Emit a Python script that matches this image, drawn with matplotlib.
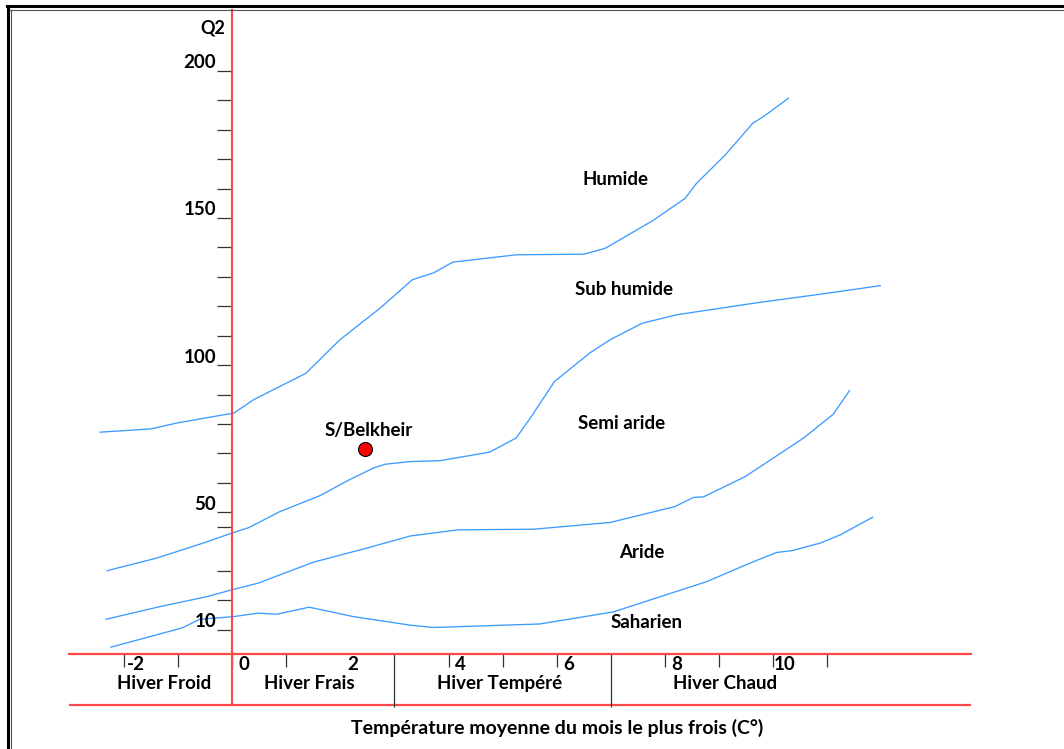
import matplotlib
matplotlib.use("Agg")
import matplotlib.pyplot as plt
from matplotlib.lines import Line2D

plt.rcParams["font.family"] = ["Lato", "DejaVu Sans"]
plt.rcParams["font.weight"] = "bold"

# Emberger climagram: limits between bioclimatic stages (T = m in C, Q2)
humide_t = [-2.45, -1.51, -1.03, -0.10, 0.02, 0.39, 1.36, 1.99, 2.73, 3.33, 3.73, 4.08,
            5.26, 6.51, 6.90, 7.78, 8.38, 8.59, 9.12, 9.63, 9.83, 10.29]
humide_q = [77.2, 78.3, 80.3, 83.3, 83.6, 88.2, 97.2, 108.6, 119.3, 129.0, 131.4, 135.0,
            137.5, 137.7, 139.7, 149.1, 156.7, 161.8, 171.4, 182.2, 184.5, 190.7]

subhum_t = [-2.32, -1.40, -0.54, -0.01, 0.31, 0.88, 1.62, 2.12, 2.61, 2.83, 3.29, 3.84,
            4.76, 5.25, 5.51, 5.96, 6.62, 6.99, 7.58, 8.22, 9.64, 11.00, 11.99]
subhum_q = [30.1, 34.4, 39.5, 42.9, 44.8, 50.2, 55.6, 60.6, 65.0, 66.3, 67.2, 67.5,
            70.4, 75.2, 81.9, 94.4, 104.2, 108.6, 114.2, 117.1, 121.0, 124.4, 127.0]

semiar_t = [-2.34, -1.34, -0.47, -0.01, 0.48, 0.88, 1.50, 2.49, 3.29, 4.18, 5.57, 6.99,
            8.19, 8.53, 8.72, 9.49, 10.01, 10.57, 11.12, 11.42]
semiar_q = [13.6, 17.9, 21.3, 23.6, 25.9, 28.7, 33.0, 37.8, 41.9, 44.0, 44.2, 46.5,
            51.9, 55.0, 55.2, 62.1, 68.4, 75.2, 83.3, 91.3]

aride_t = [-2.25, -0.94, -0.60, 0.02, 0.48, 0.82, 1.42, 2.24, 3.29, 3.72, 5.69, 7.05,
           8.78, 9.58, 10.07, 10.35, 10.88, 11.25, 11.85]
aride_q = [4.1, 10.6, 13.6, 14.5, 15.7, 15.3, 17.7, 14.5, 11.6, 10.8, 12.0, 16.1,
           26.4, 32.7, 36.3, 36.9, 39.5, 42.3, 48.3]

station_name = "S/Belkheir"
station_t = 2.46
station_q = 71.5

stage_names = ["Humide", "Sub humide", "Semi aride", "Aride", "Saharien"]
stage_t = [7.09, 7.25, 7.21, 7.58, 7.67]
stage_q = [163.0, 125.8, 80.3, 36.3, 12.5]

winter_names = ["Hiver Froid", "Hiver Frais", "Hiver Tempéré", "Hiver Chaud"]
winter_t = [-1.27, 1.42, 4.95, 9.12]
winter_limits = [3, 7]

q_labels = [200, 150, 100, 50, 10]
q_minor = [190, 180, 170, 160, 140, 130, 120, 110, 90, 80, 70, 60, 45, 30, 20]
t_ticks = [-2, -1, 0, 1, 4, 5, 6, 8, 9, 10, 11]
t_labels = [-2, 0, 2, 4, 6, 8, 10]

RED = "#ff4747"
BLUE = "#3d9bff"
FS = 13.5

fig = plt.figure(figsize=(10.64, 7.49), dpi=100)
ax = fig.add_axes([0, 0, 1, 1])
ax.set_xlim(-4.30, 15.39)
ax.set_ylim(-30.5, 224.1)

# axes lines
base_q = 1.8
low_q = -15.5
ax.spines["top"].set_visible(False)
ax.spines["right"].set_visible(False)
ax.spines["left"].set_position(("data", 0))
ax.spines["left"].set_bounds(low_q, 220.7)
ax.spines["left"].set_color(RED)
ax.spines["left"].set_linewidth(1.5)
ax.spines["bottom"].set_position(("data", base_q))
ax.spines["bottom"].set_bounds(-3.02, 13.67)
ax.spines["bottom"].set_color(RED)
ax.spines["bottom"].set_linewidth(1.6)
ax.hlines(low_q, -3.02, 13.67, color=RED, lw=1.6)

ax.set_yticks(q_labels + q_minor)
ax.set_xticks(t_ticks)
ax.tick_params(axis="y", direction="out", length=10.5, width=0.9, color="#333333",
               labelleft=False)
ax.tick_params(axis="x", direction="out", length=9.5, width=0.9, color="#333333",
               labelbottom=False)
ax.vlines(winter_limits, low_q - 0.8, base_q, color="#333333", lw=0.9)

for q in q_labels:
    ax.annotate(str(q), (0, q), xytext=(-16, 8), textcoords="offset pixels",
                ha="right", va="center", fontsize=FS, fontweight="bold")
ax.annotate("Q2", (0, 214.6), xytext=(-20, 0), textcoords="offset pixels",
            ha="center", va="center", fontsize=FS - 0.5, fontweight="bold")

for t in t_labels:
    ax.annotate(str(t), (t, base_q), xytext=(12, -11), textcoords="offset pixels",
                ha="center", va="center", fontsize=FS, fontweight="bold")

for name, t in zip(winter_names, winter_t):
    ax.annotate(name, (t, (base_q + low_q) / 2), xytext=(0, -4), textcoords="offset pixels",
                ha="center", va="center", fontsize=FS, fontweight="bold")

# stage limits
for xs, ys in [(humide_t, humide_q), (subhum_t, subhum_q),
               (semiar_t, semiar_q), (aride_t, aride_q)]:
    ax.plot(xs, ys, color=BLUE, lw=0.95)

for name, t, q in zip(stage_names, stage_t, stage_q):
    ax.text(t, q, name, ha="center", va="center", fontsize=FS, fontweight="bold")

ax.plot(station_t, station_q, "o", ms=10, mfc="red", mec="black", mew=0.8)
ax.text(station_t + 0.07, station_q + 6.1, station_name, ha="center", va="center",
        fontsize=FS, fontweight="bold")

fig.text(557 / 1064, 1 - 728 / 749, "Température moyenne du mois le plus frois (C°)",
         ha="center", va="center", fontsize=14, fontweight="bold")

# frame around the figure
fig.add_artist(Line2D([7 / 1064, 1], [1 - 6 / 749, 1 - 6 / 749], color="black", lw=2.2))
fig.add_artist(Line2D([10 / 1064, 1], [1 - 10 / 749, 1 - 10 / 749], color="#555555", lw=0.8))
fig.add_artist(Line2D([8 / 1064, 8 / 1064], [0, 1 - 6 / 749], color="black", lw=2.2))
fig.add_artist(Line2D([11 / 1064, 11 / 1064], [0, 1 - 10 / 749], color="#555555", lw=0.8))

fig.savefig("out.png", dpi=100)
